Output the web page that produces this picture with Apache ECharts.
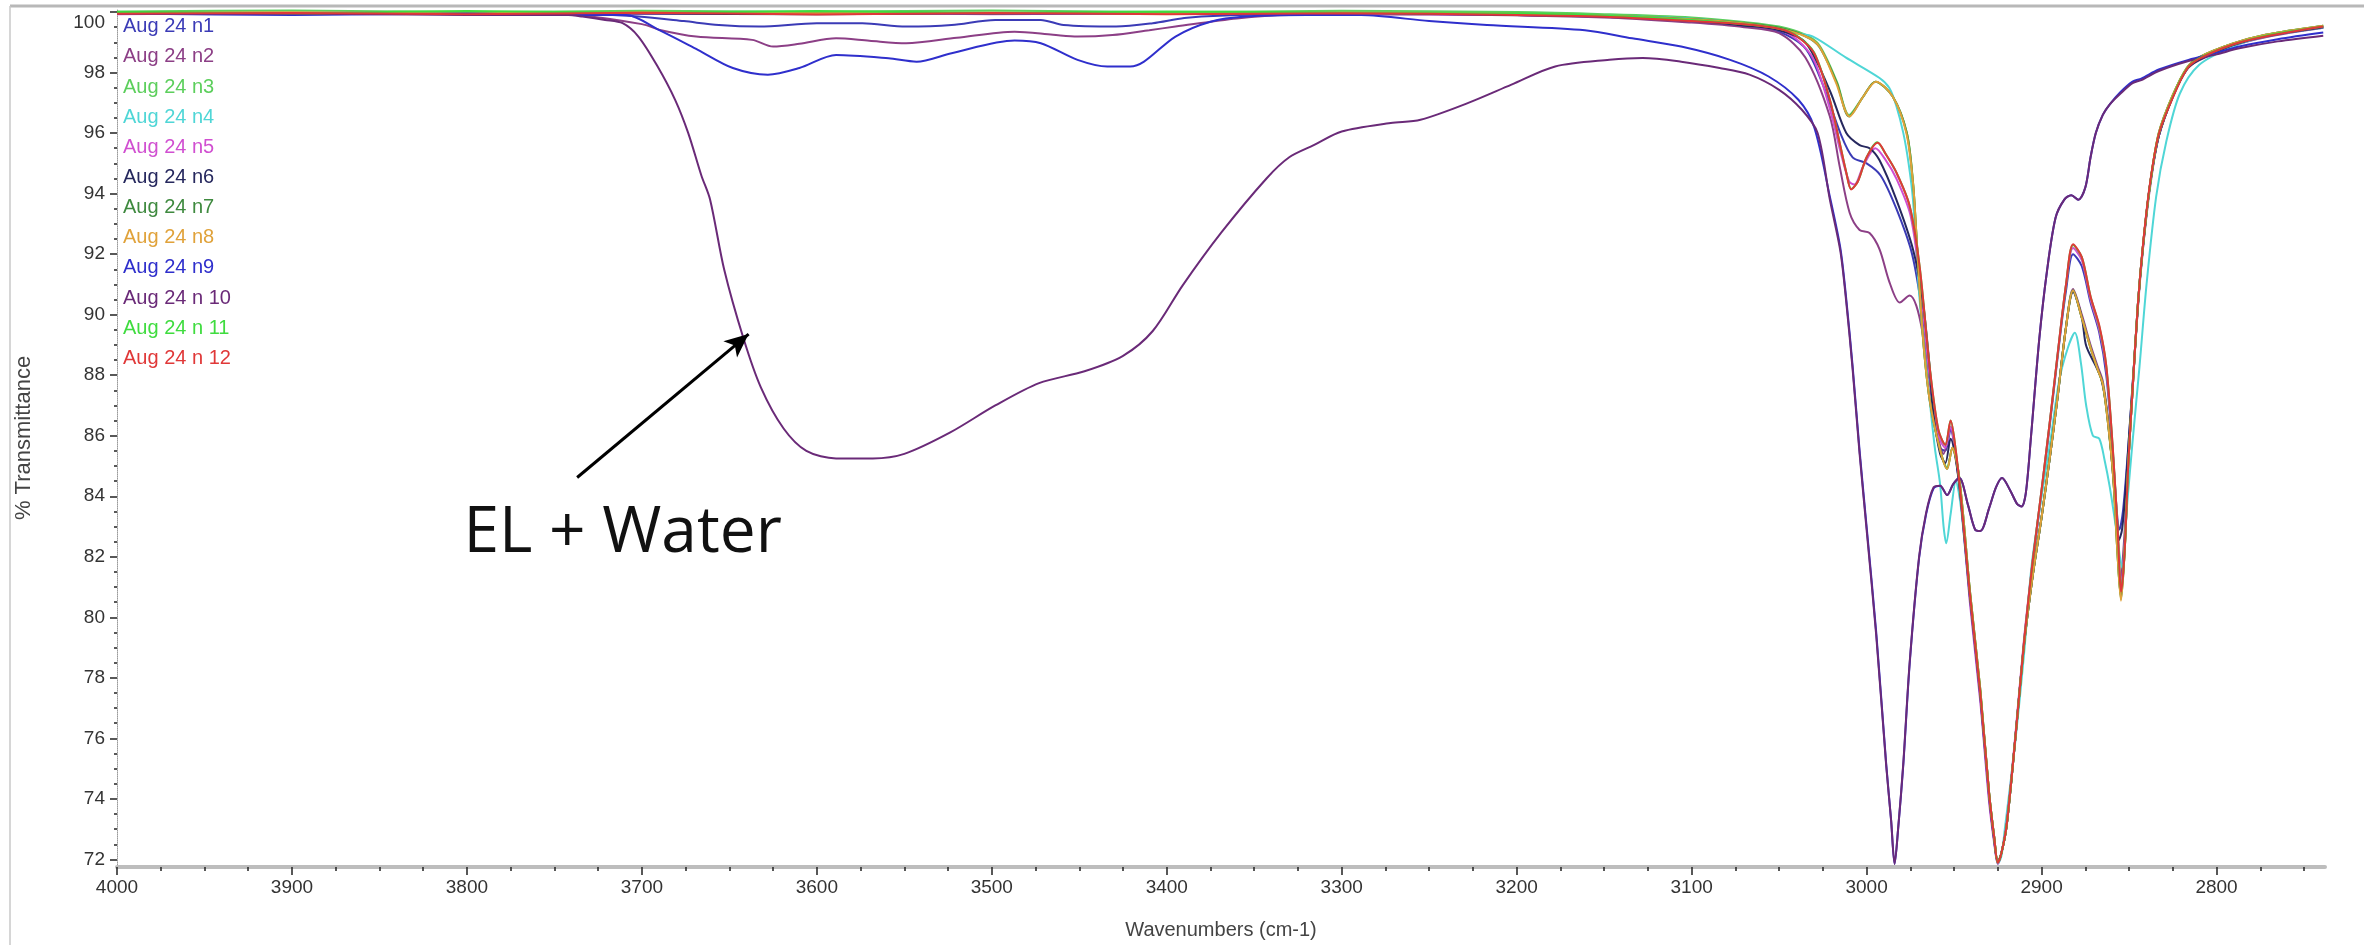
<!DOCTYPE html>
<html><head><meta charset="utf-8">
<script src="https://cdn.jsdelivr.net/npm/echarts@6/dist/echarts.min.js"></script>
<style>html,body{margin:0;padding:0;background:#fff}#c{width:2364px;height:945px}</style>
</head><body><div id="c"></div>
<script>
const seriesNames = ['Aug 24 n1','Aug 24 n2','Aug 24 n3','Aug 24 n4','Aug 24 n5','Aug 24 n6','Aug 24 n7','Aug 24 n8','Aug 24 n9','Aug 24 n 10','Aug 24 n 11','Aug 24 n 12'];
const seriesColors = ['#3b3bb6','#8c3f86','#5ccf5c','#4fd6d6','#d14fd1','#26285e','#3f8a3f','#e0a23a','#2f2fcc','#6a2a78','#3fdc3f','#e03838'];
const yTickLabels = [72,74,76,78,80,82,84,86,88,90,92,94,96,98,100];
const xTickLabels = [4000,3900,3800,3700,3600,3500,3400,3300,3200,3100,3000,2900,2800];
const annotationText = 'EL + Water';

const n1 = [[4000,99.95],[3900,99.97],[3800,99.93],[3740,99.95],[3702,99.85],[3676,99.7],[3656,99.57],[3633,99.52],[3600,99.63],[3574,99.63],[3549,99.52],[3523,99.57],[3498,99.74],[3472,99.74],[3459,99.57],[3429,99.52],[3408,99.63],[3390,99.8],[3370,99.88],[3300,99.95],[3200,99.9],[3150,99.85],[3100,99.7],[3070,99.55],[3050,99.35],[3035,98.8],[3025,97.6],[3015,96.0],[3008,95.2],[3000,95.0],[2992,94.6],[2983,93.5],[2974,92.0],[2968,90.0],[2963,87.5],[2958,85.6],[2955,85.5],[2952,86.2],[2949,85.3],[2946,83.8],[2941,80.7],[2935,77.4],[2930,74.1],[2927,72.6],[2925,71.9],[2923,72.2],[2920,73.1],[2915,76.0],[2910,79.2],[2905,81.8],[2900,84.1],[2895,86.5],[2890,89.0],[2886,90.8],[2882,92.0],[2877,91.6],[2872,90.4],[2867,89.4],[2863,88.0],[2859.5,85.6],[2857,83.5],[2855.5,82.9],[2853.5,83.5],[2851,85.2],[2848,87.6],[2845,90.3],[2842,92.3],[2838,94.3],[2833,95.9],[2825,97.2],[2817,98.1],[2810,98.45],[2791,98.9],[2772,99.2],[2739,99.5]];
const n2 = [[4000,99.97],[3900,99.93],[3800,99.95],[3740,99.9],[3700,99.6],[3689,99.4],[3669,99.19],[3637,99.08],[3625,98.86],[3610,98.95],[3589,99.13],[3570,99.05],[3549,98.97],[3520,99.15],[3487,99.35],[3465,99.25],[3451,99.19],[3431,99.24],[3410,99.4],[3395,99.52],[3360,99.79],[3330,99.9],[3250,99.92],[3150,99.82],[3100,99.65],[3070,99.5],[3050,99.3],[3035,98.5],[3021,96.55],[3015.4,94.9],[3009.7,93.37],[3004,92.8],[2998.3,92.7],[2992.6,92.16],[2986.9,91.07],[2981,90.4],[2975.4,90.63],[2971.6,90.3],[2968,89.4],[2964,87.8],[2960,86.13],[2956,85.4],[2952,86.3],[2949,85.4],[2946,83.9],[2941,80.8],[2935,77.5],[2930,74.2],[2927,72.7],[2925,71.9],[2923,72.2],[2920,73.1],[2915,76.0],[2910,79.1],[2905,81.4],[2900,83.3],[2895,85.4],[2891,87.2],[2886,89.6],[2882,90.85],[2877,90.0],[2872,89.0],[2868,88.3],[2865,87.8],[2862,86.5],[2859,84.6],[2856.5,82.3],[2855,81.2],[2853,82.4],[2850.5,85.0],[2848,87.5],[2845,90.2],[2842,92.2],[2838,94.2],[2833,95.9],[2825,97.2],[2817,98.1],[2810,98.4],[2791,98.88],[2772,99.17],[2739,99.48]];
const n3 = [[4000,100.02],[3900,100.05],[3800,100.0],[3700,100.04],[3600,100.01],[3500,100.05],[3400,100.0],[3300,100.04],[3200,100.0],[3150,99.93],[3100,99.82],[3070,99.67],[3050,99.52],[3035,99.25],[3027,98.9],[3017,97.7],[3010,96.6],[3002,97.2],[2995,97.7],[2985,97.2],[2977,96.0],[2973.5,94.4],[2971.6,92.7],[2968,89.4],[2964,87.2],[2958.3,85.6],[2954,84.95],[2951,85.6],[2947,84.6],[2941,80.9],[2935,77.6],[2930,74.2],[2927,72.7],[2925,71.9],[2923,72.2],[2920,73.1],[2915,76.0],[2910,79.1],[2905,81.4],[2900,83.3],[2895,85.4],[2891,87.2],[2886,89.6],[2882,90.8],[2877,89.9],[2872,88.9],[2868,88.2],[2865,87.7],[2862,86.4],[2859,84.6],[2856.5,82.0],[2854.7,80.7],[2852.5,82.2],[2850.5,85.0],[2848,87.5],[2845,90.3],[2842,92.3],[2838,94.3],[2833,96.0],[2825,97.25],[2817,98.15],[2810,98.5],[2791,98.95],[2772,99.25],[2739,99.55]];
const n4 = [[4000,99.96],[3900,99.98],[3800,100.0],[3700,99.96],[3600,99.98],[3500,99.95],[3400,99.98],[3300,99.96],[3200,99.93],[3150,99.88],[3100,99.78],[3070,99.62],[3050,99.45],[3040,99.3],[3030.6,99.19],[3012,98.5],[2992.6,97.82],[2987,97.49],[2983,96.9],[2979,96.0],[2976,95.0],[2973.5,93.8],[2969.7,90.5],[2964,87.2],[2961,85.6],[2958,84.4],[2956,83.0],[2954.5,82.45],[2952,83.4],[2949,84.5],[2946,83.6],[2941,80.6],[2935,77.3],[2930,74.0],[2927,72.6],[2925,71.85],[2923,72.1],[2921,73.0],[2915,75.9],[2910,78.8],[2905.7,81.7],[2900,84.0],[2895,85.8],[2890,87.8],[2885,88.9],[2881,89.4],[2877.5,88.4],[2874.5,87.0],[2870.7,86.0],[2867,85.9],[2864,85.2],[2861,84.3],[2857.3,82.9],[2854,81.65],[2851,83.8],[2848,85.8],[2844,88.3],[2840,91.0],[2834.5,93.9],[2828.8,95.7],[2821,97.3],[2810,98.25],[2791,98.85],[2772,99.19],[2739,99.48]];
const n5 = [[4000,99.93],[3900,99.96],[3800,99.98],[3700,99.94],[3600,99.97],[3500,99.93],[3400,99.96],[3300,99.94],[3200,99.9],[3150,99.84],[3100,99.7],[3070,99.55],[3050,99.4],[3040,99.1],[3030,98.4],[3021,96.8],[3015,95.4],[3010,94.4],[3007,94.3],[3002,94.9],[2995,95.5],[2989,95.1],[2983,94.5],[2975,93.3],[2969.7,91.2],[2964,88.0],[2959,86.0],[2955,85.6],[2952,86.3],[2949,85.3],[2946,83.8],[2941,80.5],[2935,77.2],[2930,73.9],[2927,72.5],[2925,71.85],[2923,72.2],[2920,73.2],[2915,76.1],[2910,79.3],[2905,81.9],[2900,84.2],[2895,86.6],[2890,89.1],[2886,91.0],[2882,92.2],[2877,91.8],[2872,90.5],[2867,89.5],[2863,88.2],[2859.3,85.5],[2856.5,82.9],[2854.6,81.0],[2852.5,82.3],[2850.5,85.0],[2848,87.5],[2845,90.3],[2842,92.3],[2838,94.3],[2833,95.9],[2825,97.2],[2817,98.1],[2810,98.45],[2791,98.9],[2772,99.2],[2739,99.5]];
const n6 = [[4000,99.96],[3900,99.94],[3800,99.97],[3700,99.95],[3600,99.93],[3500,99.96],[3400,99.94],[3300,99.97],[3200,99.9],[3150,99.84],[3100,99.7],[3070,99.55],[3050,99.4],[3035,99.0],[3021,97.4],[3011.6,96.0],[3004,95.6],[2998.3,95.5],[2992.6,95.1],[2983,93.8],[2973.5,92.16],[2968,90.5],[2964,88.3],[2962,86.8],[2958,85.4],[2955,85.1],[2952,85.9],[2949,85.2],[2946,83.8],[2941,80.7],[2935,77.4],[2930,74.1],[2927,72.6],[2925,71.9],[2923,72.2],[2920,73.1],[2915,76.0],[2910,79.1],[2905,81.4],[2900,83.3],[2895,85.4],[2891,87.2],[2886,89.6],[2882,90.75],[2877,89.9],[2874.5,88.97],[2869,88.3],[2866,87.9],[2863,86.96],[2859.3,84.9],[2857,83.2],[2855.8,82.55],[2854,82.9],[2852,84.2],[2850,86.0],[2847,88.5],[2844,91.0],[2841,92.8],[2838,94.3],[2833,95.9],[2825,97.2],[2817,98.1],[2810,98.42],[2791,98.9],[2772,99.2],[2739,99.5]];
const n7 = [[4000,99.99],[3900,99.97],[3800,100.0],[3700,99.97],[3600,100.0],[3500,99.96],[3400,99.99],[3300,99.97],[3200,99.94],[3150,99.88],[3100,99.77],[3070,99.63],[3050,99.48],[3035,99.2],[3027,98.85],[3017,97.65],[3010,96.55],[3002,97.2],[2995,97.7],[2985,97.2],[2977,96.0],[2973.5,94.36],[2971.6,92.7],[2968,89.4],[2964,87.2],[2958.3,85.6],[2954,84.9],[2951,85.6],[2947,84.6],[2941,80.9],[2935,77.6],[2930,74.2],[2927,72.7],[2925,71.9],[2923,72.2],[2920,73.1],[2915,76.0],[2910,79.1],[2905,81.4],[2900,83.3],[2895,85.4],[2891,87.2],[2886,89.6],[2882,90.8],[2877,89.9],[2872,88.9],[2868,88.2],[2865,87.7],[2862,86.4],[2859,84.6],[2856.5,82.0],[2854.6,80.6],[2852.5,82.2],[2850.5,85.0],[2848,87.5],[2845,90.3],[2842,92.3],[2838,94.3],[2833,96.0],[2825,97.25],[2817,98.15],[2810,98.5],[2791,98.95],[2772,99.25],[2739,99.55]];
const n8 = [[4000,99.97],[3900,99.99],[3800,99.96],[3700,99.99],[3600,99.96],[3500,99.98],[3400,99.95],[3300,99.98],[3200,99.94],[3150,99.88],[3100,99.76],[3070,99.62],[3050,99.45],[3035,99.2],[3027,98.86],[3017.4,97.65],[3009.7,96.55],[3002,97.2],[2994.7,97.7],[2985,97.2],[2977.3,96.0],[2973.5,94.36],[2971.6,92.7],[2968,89.4],[2964,87.2],[2958.3,85.6],[2954,84.9],[2951,85.6],[2947,84.6],[2941,80.9],[2935,77.6],[2930,74.2],[2927,72.7],[2925,71.9],[2923,72.2],[2920,73.1],[2915,76.0],[2910,79.1],[2905,81.4],[2900,83.3],[2895,85.4],[2891,87.2],[2886,89.6],[2882,90.8],[2877,89.9],[2872,88.9],[2868,88.2],[2865,87.7],[2862,86.4],[2859,84.6],[2856.5,82.0],[2854.6,80.55],[2852.5,82.2],[2850.5,85.0],[2848,87.5],[2845,90.3],[2842,92.3],[2838,94.3],[2833,96.0],[2825,97.25],[2817,98.15],[2810,98.5],[2791,98.95],[2772,99.25],[2739,99.55]];
const n9 = [[4000,99.95],[3900,99.9],[3800,99.95],[3740,99.9],[3709,99.9],[3690,99.4],[3668,98.75],[3648,98.15],[3628,97.93],[3610,98.15],[3589,98.58],[3559,98.47],[3543,98.36],[3523,98.64],[3487,99.06],[3472,98.97],[3451,98.42],[3434,98.2],[3421,98.2],[3413,98.36],[3395,99.19],[3375,99.68],[3355,99.85],[3320,99.9],[3289,99.9],[3250,99.7],[3217,99.57],[3161,99.4],[3134,99.13],[3106,98.86],[3078,98.42],[3056,97.87],[3039,97.1],[3030,96.2],[3021,93.9],[3015,92.2],[3011.6,90.5],[3008,88.3],[3004,85.5],[3000,83.0],[2994.5,79.5],[2988.8,75.15],[2986,73.3],[2984,71.85],[2982,73.0],[2979,75.15],[2975.4,78.45],[2970,81.96],[2966,83.4],[2961.7,84.26],[2958,84.35],[2954,84.04],[2950.5,84.4],[2947,84.6],[2942,83.7],[2938,82.9],[2935,82.85],[2930,83.6],[2926,84.3],[2922.6,84.6],[2918,84.2],[2914,83.75],[2911.4,83.66],[2909,84.1],[2906,86.0],[2901.3,89.2],[2897,91.4],[2892,93.2],[2887,93.8],[2883,93.95],[2879,93.8],[2875,94.2],[2872,95.2],[2869,96.0],[2865,96.6],[2861,96.95],[2855,97.35],[2848,97.7],[2843,97.8],[2833,98.1],[2816,98.42],[2800,98.65],[2787,98.86],[2765,99.1],[2739,99.32]];
const n10 = [[4000,99.95],[3900,99.95],[3800,99.9],[3742,99.9],[3734,99.85],[3721,99.74],[3711,99.63],[3702,99.19],[3691,98.2],[3681,97.1],[3673.5,96.0],[3666,94.6],[3661,93.8],[3653,91.5],[3642,89.23],[3632,87.6],[3619,86.24],[3606,85.5],[3589,85.25],[3568,85.25],[3550,85.4],[3524,86.1],[3498,87.0],[3473,87.74],[3447,88.13],[3425,88.64],[3408,89.46],[3391,90.96],[3369,92.7],[3343,94.5],[3330,95.2],[3316,95.6],[3300,96.05],[3272,96.33],[3255,96.44],[3228,96.99],[3203,97.6],[3178,98.2],[3147,98.42],[3128,98.48],[3106,98.36],[3084,98.15],[3067,97.93],[3050,97.43],[3037,96.77],[3028,96.0],[3021,93.8],[3015,92.1],[3011.6,90.4],[3008,88.2],[3004,85.4],[3000,82.9],[2994.5,79.4],[2988.8,75.1],[2986,73.3],[2984,71.85],[2982,73.0],[2979,75.2],[2975.4,78.5],[2970,82.0],[2966,83.45],[2961.7,84.3],[2958,84.35],[2954,84.04],[2950.5,84.4],[2947,84.6],[2942,83.7],[2938,82.9],[2935,82.85],[2930,83.6],[2926,84.3],[2922.6,84.6],[2918,84.2],[2914,83.75],[2911.4,83.66],[2909,84.1],[2906,86.0],[2901.3,89.2],[2897,91.4],[2892,93.2],[2887,93.8],[2883,93.95],[2879,93.8],[2875,94.2],[2872,95.2],[2869,96.0],[2865,96.6],[2861,96.95],[2855,97.3],[2848,97.65],[2843,97.75],[2833,98.05],[2816,98.38],[2800,98.6],[2787,98.8],[2765,99.03],[2739,99.22]];
const n11 = [[4000,100.0],[3900,99.96],[3800,100.03],[3700,99.98],[3600,100.03],[3500,99.97],[3400,100.02],[3300,99.97],[3200,99.95],[3150,99.88],[3100,99.74],[3070,99.6],[3050,99.46],[3040,99.22],[3030,98.66],[3021,97.1],[3015.4,95.68],[3011.6,94.7],[3008.8,94.15],[3005,94.4],[3000,95.2],[2994,95.7],[2989,95.3],[2983,94.7],[2975.4,93.6],[2969.7,91.6],[2964,88.3],[2959,86.2],[2955,85.7],[2952,86.5],[2949,85.5],[2946,83.9],[2941,80.8],[2935,77.5],[2930,74.2],[2927,72.7],[2925,71.9],[2923,72.2],[2920,73.1],[2915,76.0],[2910,79.2],[2905,81.9],[2900,84.2],[2895,86.6],[2890,89.1],[2886,91.0],[2882,92.3],[2877,91.9],[2872,90.6],[2867,89.6],[2863,88.3],[2859.3,85.6],[2856.5,82.9],[2854.5,80.9],[2852.5,82.2],[2850.5,85.0],[2848,87.5],[2845,90.3],[2842,92.3],[2838,94.3],[2833,95.95],[2825,97.2],[2817,98.12],[2810,98.47],[2791,98.92],[2772,99.22],[2739,99.52]];
const n12 = [[4000,99.94],[3900,99.97],[3800,99.93],[3700,99.98],[3600,99.92],[3500,99.97],[3400,99.93],[3300,99.96],[3200,99.9],[3150,99.84],[3100,99.7],[3070,99.6],[3050,99.45],[3040,99.2],[3030,98.64],[3021,97.1],[3015.4,95.68],[3011.6,94.69],[3008.8,94.14],[3005,94.4],[3000,95.2],[2993.6,95.68],[2989,95.3],[2983,94.7],[2975.4,93.59],[2969.7,91.6],[2964,88.3],[2959,86.2],[2955,85.7],[2952,86.5],[2949,85.5],[2946,83.9],[2941,80.8],[2935,77.5],[2930,74.2],[2927,72.7],[2925,71.9],[2923,72.2],[2920,73.1],[2915,76.0],[2910,79.2],[2905,81.9],[2900,84.2],[2895,86.6],[2890,89.1],[2886,91.0],[2882,92.33],[2877,91.9],[2872,90.6],[2867,89.64],[2863,88.3],[2859.3,85.6],[2856.5,82.9],[2854.5,80.85],[2852.5,82.2],[2850.5,85.0],[2848,87.5],[2845,90.3],[2842,92.33],[2838,94.35],[2833,95.96],[2825,97.17],[2817,98.11],[2810,98.45],[2791,98.92],[2772,99.19],[2739,99.52]];

const seriesData = [n1,n2,n3,n4,n5,n6,n7,n8,n9,n10,n11,n12];

const xMinorTicks = [];
for (let v = 2750; v <= 4000; v += 25) if (v % 100 !== 0) xMinorTicks.push(v);
const yMinorTicks = [];
for (let v = 72; v <= 100; v += 0.5) if (v % 2 !== 0) yMinorTicks.push(v);

const FONT = 'Liberation Sans, Arial, sans-serif';
const chart = echarts.init(document.getElementById('c'));

const series = seriesNames.map((nm, i) => {
  const s = {
    name: nm, type: 'line', data: seriesData[i],
    symbol: 'none', showSymbol: false, smooth: 0.3, clip: true,
    lineStyle: { color: seriesColors[i], width: 2 },
    itemStyle: { color: seriesColors[i] },
    emphasis: { disabled: true }
  };
  if (i === 9) {
    s.markLine = {
      silent: true, symbol: ['none', 'arrow'], symbolSize: [16, 24],
      lineStyle: { color: '#000', width: 3, type: 'solid' },
      label: { show: false },
      data: [[{ coord: [3737, 84.62] }, { coord: [3639, 89.36] }]]
    };
    s.markPoint = {
      silent: true, symbol: 'circle', symbolSize: 1,
      itemStyle: { color: 'rgba(0,0,0,0)' },
      label: { show: true, position: 'inside', formatter: annotationText,
               fontFamily: 'Open Sans, Noto Sans, sans-serif', fontSize: 64, color: '#111' },
      data: [{ coord: [3711, 82.75] }]
    };
  }
  return s;
});

chart.setOption({
  animation: false,
  backgroundColor: '#ffffff',
  textStyle: { fontFamily: FONT },
  grid: { left: 117, right: 39, top: 9, bottom: 75, containLabel: false },
  legend: {
    orient: 'vertical', left: 118, top: 16.7, padding: 0, itemWidth: 0, itemHeight: 20, itemGap: 10.15,
    selectedMode: false, icon: 'rect',
    textStyle: { fontSize: 20, fontFamily: FONT, lineHeight: 20 },
    data: seriesNames.map((n, i) => ({ name: n, itemStyle: { opacity: 0 }, textStyle: { color: seriesColors[i] } }))
  },
  xAxis: [{
    type: 'value', inverse: true, min: 2738, max: 4000, gridIndex: 0, position: 'bottom',
    name: 'Wavenumbers (cm-1)', nameLocation: 'middle', nameGap: 53,
    nameTextStyle: { fontSize: 20, color: '#444', fontFamily: FONT },
    axisLine: { show: true, lineStyle: { color: '#bdbdbd', width: 4 } },
    axisTick: { show: true, customValues: xTickLabels, length: 8, lineStyle: { color: '#222', width: 1.5 } },
    axisLabel: { customValues: xTickLabels, fontSize: 19, color: '#333', margin: 11, fontFamily: FONT,
                 formatter: v => String(v) },
    splitLine: { show: false }
  }, {
    type: 'value', inverse: true, min: 2738, max: 4000, gridIndex: 0, position: 'bottom',
    axisLine: { show: false },
    axisTick: { show: true, customValues: xMinorTicks, length: 4, lineStyle: { color: '#222', width: 1.5 } },
    axisLabel: { show: false }, splitLine: { show: false }
  }],
  yAxis: [{
    type: 'value', min: 71.75, max: 100.1, gridIndex: 0, position: 'left',
    name: '% Transmittance', nameLocation: 'middle', nameGap: 82, nameRotate: 90,
    nameTextStyle: { fontSize: 22, color: '#444', fontFamily: FONT },
    axisLine: { show: true, lineStyle: { color: '#9a9a9a', width: 1, type: 'dotted' } },
    axisTick: { show: true, customValues: yTickLabels, length: 7, lineStyle: { color: '#222', width: 1.5 } },
    axisLabel: {
      customValues: yTickLabels, fontSize: 19, color: '#333', margin: 12, fontFamily: FONT,
      formatter: v => (v === 100 ? '{t|100}' : String(v)),
      rich: { t: { fontSize: 19, color: '#333', fontFamily: FONT, padding: [21, 0, 0, 0] } }
    },
    splitLine: { show: false }
  }, {
    type: 'value', min: 71.75, max: 100.1, gridIndex: 0, position: 'left',
    axisLine: { show: false },
    axisTick: { show: true, customValues: yMinorTicks, length: 3, lineStyle: { color: '#222', width: 1.5 } },
    axisLabel: { show: false }, splitLine: { show: false }
  }],
  graphic: [
    { type: 'line', silent: true, shape: { x1: 10, y1: 6, x2: 2364, y2: 6 }, style: { stroke: '#b8b8b8', lineWidth: 3 } },
    { type: 'line', silent: true, shape: { x1: 10, y1: 6, x2: 10, y2: 945 }, style: { stroke: '#c8c8c8', lineWidth: 1.5 } }
  ],
  series: series
});
</script>
</body></html>
